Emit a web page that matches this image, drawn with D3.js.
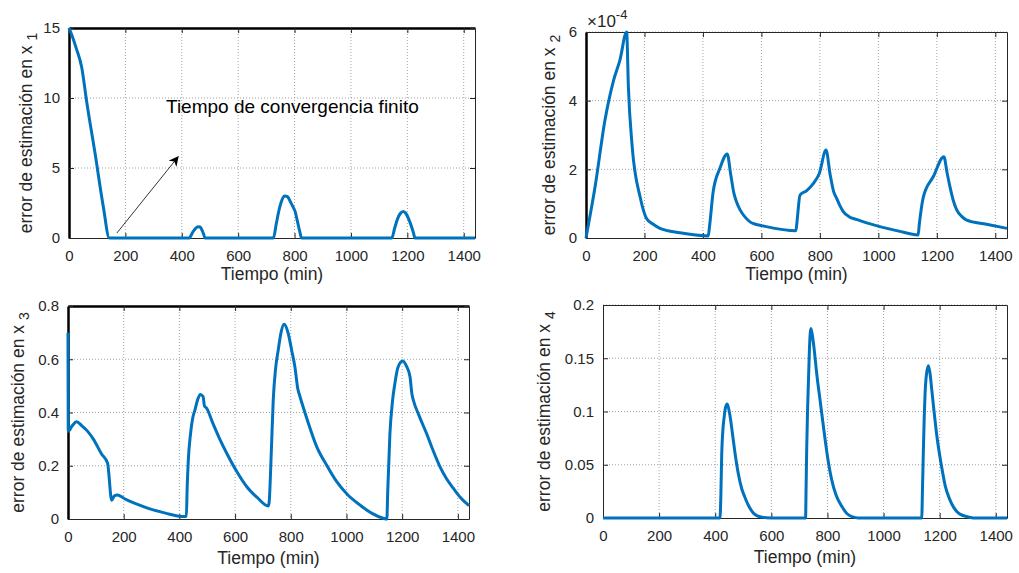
<!DOCTYPE html>
<html>
<head>
<meta charset="utf-8">
<script src="https://cdn.jsdelivr.net/npm/d3@7"></script>
<style>
  body { margin: 0; background: #fff; }
  svg { display: block; font-family: "Liberation Sans", Arial, sans-serif; }
</style>
</head>
<body>
<svg id="chart" width="1019" height="573"></svg>
<script>
// time axis ticks (min)
const timeTicks = [0, 200, 400, 600, 800, 1000, 1200, 1400];

// estimation error in x1
const timeX1 = [0, 10, 25, 45, 63, 92, 122, 143, 427, 437, 447, 457, 465, 472, 478, 482,
  725, 735, 745, 755, 765, 775, 785, 795, 802, 810, 818, 825,
  1145, 1155, 1165, 1175, 1186, 1195, 1205, 1215, 1222, 1227, 1440];
const errX1 = [15, 14.5, 13.6, 12.2, 9.7, 6.1, 2.2, 0, 0, 0.35, 0.65, 0.8, 0.78, 0.55, 0.25, 0,
  0, 1.0, 2.0, 2.7, 3.0, 2.95, 2.6, 2.2, 1.9, 1.2, 0.5, 0,
  0, 0.7, 1.35, 1.75, 1.9, 1.75, 1.35, 0.8, 0.35, 0, 0];
const yTicksX1 = [0, 5, 10, 15];

// estimation error in x2 (x 1e-4)
const timeX2 = [0, 31, 65, 93, 116, 139, 145, 158, 185, 207, 230, 253, 321, 418, 422, 435, 458, 483, 495, 506, 515, 527, 545, 561, 580, 601,
  718, 722, 732, 755, 778, 798, 821, 835, 847, 857, 868, 880, 900, 925, 960, 1005, 1070, 1136,
  1140, 1154, 1188, 1224, 1235, 1245, 1256, 1268, 1285, 1302, 1370, 1440];
const errX2 = [0, 1.49, 3.44, 4.55, 5.18, 6.0, 4.4, 2.66, 1.2, 0.57, 0.4, 0.28, 0.15, 0.06, 0.3, 1.35, 2.03, 2.45, 1.85, 1.3, 1.05, 0.82, 0.6, 0.47, 0.4, 0.36,
  0.21, 0.5, 1.25, 1.38, 1.59, 1.88, 2.56, 1.85, 1.35, 1.16, 0.95, 0.77, 0.62, 0.54, 0.44, 0.33, 0.2, 0.09,
  0.4, 1.2, 1.79, 2.37, 1.9, 1.49, 1.1, 0.82, 0.63, 0.52, 0.4, 0.28];
const yTicksX2 = [0, 2, 4, 6];

// estimation error in x3
const timeX3 = [0, 1, 15, 31, 50, 70, 91, 120, 142, 157, 165, 175, 190, 205, 250, 294, 350, 414,
  425, 428, 432, 440, 448, 456, 466, 475, 485, 490, 498, 520, 545, 570, 605, 642, 680, 719,
  722, 730, 737, 745, 755, 765, 776, 790, 803, 815, 825, 833, 860, 893, 930, 965, 1005, 1048, 1090, 1132, 1145,
  1148, 1156, 1165, 1174, 1185, 1202, 1215, 1228, 1235, 1240, 1260, 1288, 1310, 1336, 1360, 1384, 1410, 1440];
const errX3 = [0.70, 0.33, 0.35, 0.365, 0.35, 0.33, 0.30, 0.245, 0.21, 0.07, 0.085, 0.09, 0.085, 0.075, 0.055, 0.038, 0.022, 0.009,
  0.01, 0.12, 0.22, 0.32, 0.38, 0.41, 0.45, 0.468, 0.46, 0.425, 0.416, 0.36, 0.30, 0.247, 0.18, 0.121, 0.08, 0.049,
  0.06, 0.25, 0.447, 0.56, 0.635, 0.70, 0.731, 0.70, 0.635, 0.57, 0.49, 0.46, 0.37, 0.272, 0.2, 0.14, 0.09, 0.053, 0.022, 0.003, 0,
  0.1, 0.32, 0.44, 0.51, 0.57, 0.593, 0.575, 0.535, 0.47, 0.447, 0.39, 0.32, 0.26, 0.196, 0.15, 0.115, 0.08, 0.05];
const yTicksX3 = [0, 0.2, 0.4, 0.6, 0.8];

// estimation error in x4
const timeX4 = [0, 417, 420, 423, 428, 432, 437, 443, 450, 455, 461, 470, 482, 495, 505, 518, 535, 550, 566, 600,
  722, 724, 726, 729, 732, 736, 741, 746, 752, 762, 775, 791, 800, 815, 830, 851, 870, 890, 910,
  1136, 1139, 1142, 1145, 1148, 1153, 1160, 1166, 1172, 1180, 1190, 1207, 1220, 1235, 1250, 1270, 1302, 1320, 1440];
const errX4 = [0, 0, 0.02, 0.058, 0.085, 0.095, 0.104, 0.107, 0.1, 0.092, 0.080, 0.062, 0.042, 0.027, 0.02, 0.012, 0.005, 0.002, 0.0008, 0,
  0, 0.03, 0.064, 0.1, 0.126, 0.16, 0.178, 0.172, 0.16, 0.135, 0.108, 0.075, 0.058, 0.036, 0.022, 0.011, 0.004, 0.001, 0,
  0, 0.03, 0.064, 0.095, 0.117, 0.135, 0.143, 0.135, 0.12, 0.1, 0.077, 0.048, 0.03, 0.018, 0.01, 0.004, 0.001, 0, 0];
const yTicksX4 = [0, 0.05, 0.1, 0.15, 0.2];

// annotation in the x1 panel
const noteText = 'Tiempo de convergencia finito';
const notePos = [344, 8.9];
const arrowFrom = [170, 0.36];
const arrowTo = [387, 5.8];

const lineColor = '#0072BD';
const axisColor = '#262626';

const panels = [
  {box: {left: 69, right: 475, top: 28, bottom: 238}, t: timeX1, v: errX1, yMax: 15, yTicks: yTicksX1, sub: '1', labelX: 32, labelDy: 42, thick: ['top', 'left']},
  {box: {left: 586, right: 1007, top: 32, bottom: 238}, t: timeX2, v: errX2, yMax: 6, yTicks: yTicksX2, sub: '2', labelX: 555, labelDy: 42, thick: ['left'], exponent: '-4'},
  {box: {left: 68, right: 469, top: 306, bottom: 519}, t: timeX3, v: errX3, yMax: 0.8, yTicks: yTicksX3, sub: '3', labelX: 24, labelDy: 45, thick: ['top', 'left']},
  {box: {left: 603, right: 1007, top: 305, bottom: 518}, t: timeX4, v: errX4, yMax: 0.2, yTicks: yTicksX4, sub: '4', labelX: 550, labelDy: 45, thick: []}
];

const svg = d3.select('#chart');

svg.append('defs').append('marker')
  .attr('id', 'head')
  .attr('viewBox', '0 0 10 10')
  .attr('refX', 9).attr('refY', 5)
  .attr('markerWidth', 10).attr('markerHeight', 10)
  .attr('markerUnits', 'userSpaceOnUse')
  .attr('orient', 'auto')
  .append('path')
  .attr('d', 'M0,0 L10,5 L0,10 L3,5 Z')
  .attr('fill', '#000');

panels.forEach(function(p, i) {
  const b = p.box;
  const x = d3.scaleLinear().domain([0, 1440]).range([b.left, b.right]);
  const y = d3.scaleLinear().domain([0, p.yMax]).range([b.bottom, b.top]);
  const g = svg.append('g').attr('class', 'panel');

  // grid
  g.append('g').selectAll('line.gx')
    .data(timeTicks.filter(d => d > 0)).enter().append('line')
    .attr('x1', d => x(d)).attr('x2', d => x(d))
    .attr('y1', b.top).attr('y2', b.bottom)
    .attr('stroke', '#8a8a8a').attr('stroke-width', 0.8)
    .attr('stroke-dasharray', '1,2');
  g.append('g').selectAll('line.gy')
    .data(p.yTicks.filter(d => d > 0)).enter().append('line')
    .attr('x1', b.left).attr('x2', b.right)
    .attr('y1', d => y(d)).attr('y2', d => y(d))
    .attr('stroke', '#8a8a8a').attr('stroke-width', 0.8)
    .attr('stroke-dasharray', '1,2');

  // axes, ticks pointing inward like matlab
  const xb = g.append('g').attr('transform', `translate(0,${b.bottom})`)
    .call(d3.axisBottom(x).tickValues(timeTicks).tickSizeInner(-5).tickSizeOuter(0).tickPadding(12).tickFormat(d3.format('d')));
  const xt = g.append('g').attr('transform', `translate(0,${b.top})`)
    .call(d3.axisTop(x).tickValues(timeTicks).tickSizeInner(-5).tickSizeOuter(0).tickFormat(''));
  const yl = g.append('g').attr('transform', `translate(${b.left},0)`)
    .call(d3.axisLeft(y).tickValues(p.yTicks).tickSizeInner(-5).tickSizeOuter(0).tickPadding(9)
      .tickFormat(d => String(+d.toFixed(3))));
  const yr = g.append('g').attr('transform', `translate(${b.right},0)`)
    .call(d3.axisRight(y).tickValues(p.yTicks).tickSizeInner(-5).tickSizeOuter(0).tickFormat(''));

  [xb, xt, yl, yr].forEach(function(a) {
    a.select('.domain').attr('stroke', axisColor).attr('stroke-width', 1);
    a.selectAll('.tick line').attr('stroke', axisColor);
    a.selectAll('.tick text').attr('fill', axisColor).style('font-size', '15px')
      .style('font-family', '"Liberation Sans", Arial, sans-serif');
  });
  if (p.thick.indexOf('top') >= 0) xt.select('.domain').attr('stroke', '#000').attr('stroke-width', 2.5);
  if (p.thick.indexOf('left') >= 0) yl.select('.domain').attr('stroke', '#000').attr('stroke-width', 2.5);

  // data line
  const line = d3.line().x(d => x(d[0])).y(d => y(d[1])).curve(d3.curveMonotoneX);
  g.append('path')
    .datum(p.t.map((t, k) => [t, p.v[k]]))
    .attr('d', line)
    .attr('fill', 'none')
    .attr('stroke', lineColor)
    .attr('stroke-width', 3)
    .attr('stroke-linejoin', 'round');

  // labels
  g.append('text')
    .attr('x', (b.left + b.right) / 2)
    .attr('y', b.bottom + p.labelDy)
    .attr('text-anchor', 'middle')
    .attr('fill', axisColor)
    .style('font-size', '17.5px')
    .text('Tiempo (min)');

  const cy = (b.top + b.bottom) / 2;
  const yt = g.append('text')
    .attr('transform', `translate(${p.labelX},${cy}) rotate(-90)`)
    .attr('text-anchor', 'middle')
    .attr('fill', axisColor)
    .style('font-size', '17.5px');
  yt.append('tspan').text('error de estimación en x ');
  yt.append('tspan').attr('dy', 5).style('font-size', '14px').text(p.sub);

  if (p.exponent) {
    const ex = g.append('text')
      .attr('x', b.left + 1)
      .attr('y', b.top - 5)
      .attr('fill', axisColor)
      .style('font-size', '17px');
    ex.append('tspan').text('×10');
    ex.append('tspan').attr('dy', -8).style('font-size', '13px').text(p.exponent);
  }

  if (i === 0) {
    g.append('line')
      .attr('x1', x(arrowFrom[0])).attr('y1', y(arrowFrom[1]))
      .attr('x2', x(arrowTo[0])).attr('y2', y(arrowTo[1]))
      .attr('stroke', '#000').attr('stroke-width', 0.8)
      .attr('marker-end', 'url(#head)');
    g.append('text')
      .attr('x', x(notePos[0])).attr('y', y(notePos[1]))
      .attr('fill', '#000')
      .style('font-size', '19px')
      .text(noteText);
  }
});
</script>
</body>
</html>
